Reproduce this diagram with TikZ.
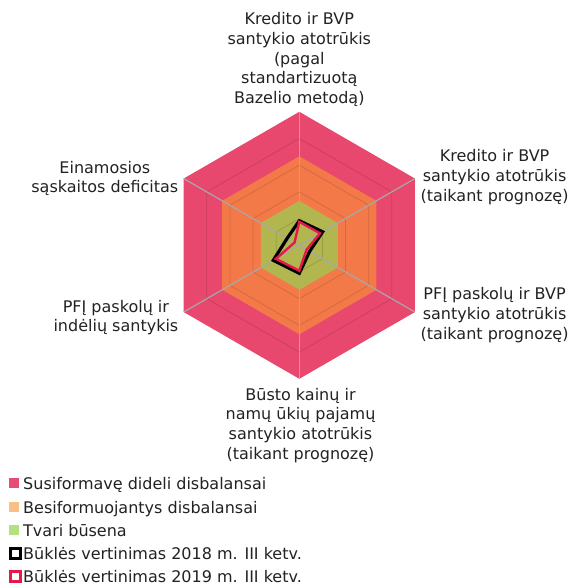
\documentclass[tikz,border=0pt]{standalone}
\usepackage{fontspec}
\setmainfont{DejaVu Sans}
\definecolor{outred}{RGB}{232,72,110}
\definecolor{midorange}{RGB}{243,122,72}
\definecolor{inolive}{RGB}{177,182,78}
\definecolor{legred}{RGB}{233,76,114}
\definecolor{legorange}{RGB}{252,190,135}
\definecolor{leggreen}{RGB}{180,224,130}
\definecolor{datapink}{RGB}{230,25,75}
\definecolor{spoke}{RGB}{168,168,168}
\definecolor{txt}{RGB}{34,34,34}
\begin{document}
\begin{tikzpicture}[x=1pt,y=-1pt,
  lab/.style={font=\fontsize{16}{19.6}\selectfont, text=txt, align=center, inner sep=0pt},
  legtext/.style={font=\fontsize{16}{19.6}\selectfont, text=txt, inner sep=0pt, anchor=base west},
  gridhex/.style={draw=black, draw opacity=0.13, line width=0.8pt},
  spokeline/.style={draw=spoke, line width=1.2pt},
  legsq/.style={minimum size=10pt, inner sep=0pt, draw=none},
  legbox/.style={minimum size=10pt, inner sep=0pt, fill=white, line width=3pt}]
\useasboundingbox (0,0) rectangle (571,585);
\begin{scope}[shift={(299.3,245.3)}, yscale=-1]
  \coordinate (o) at (0,0);
  \foreach \i/\a in {1/90,2/30,3/-30,4/-90,5/-150,6/150} {
    \coordinate (a\i) at (\a:133.5);
  }
  \fill[outred] (90:133.5) \foreach \a in {30,-30,-90,-150,150} { -- (\a:133.5) } -- cycle;
  \fill[midorange] (90:89) \foreach \a in {30,-30,-90,-150,150} { -- (\a:89) } -- cycle;
  \fill[inolive] (90:44.5) \foreach \a in {30,-30,-90,-150,150} { -- (\a:44.5) } -- cycle;
  \foreach \r in {26.7,53.4,80.1,106.8} {
    \draw[gridhex] (90:\r) \foreach \a in {30,-30,-90,-150,150} { -- (\a:\r) } -- cycle;
  }
  \foreach \i in {1,...,6} { \draw[spokeline] (o) -- (a\i); }
  % 2018
  \draw[black, line width=3.2pt, line join=miter]
    (90:24.5) -- (30:27) -- (-30:12) -- (-90:28) -- (-150:30) -- (150:14) -- cycle;
  % 2019
  \draw[datapink, line width=2.4pt, line join=miter]
    (90:23.5) -- (30:24) -- (-30:8.5) -- (-90:25.5) -- (-150:27) -- (150:5.5) -- cycle;
\end{scope}
% axis labels
\node[lab, anchor=north] (l1) at (299.3,12.5) {Kredito ir BVP\\santykio atotrūkis\\(pagal\\standartizuotą\\Bazelio metodą)};
\node[lab, anchor=north west] (l2) at (420.5,149.5) {Kredito ir BVP\\santykio atotrūkis\\(taikant prognozę)};
\node[lab, anchor=north west] (l3) at (420.5,287.5) {PFĮ paskolų ir BVP\\santykio atotrūkis\\(taikant prognozę)};
\node[lab, anchor=north] (l4) at (300.5,388) {Būsto kainų ir\\namų ūkių pajamų\\santykio atotrūkis\\(taikant prognozę)};
\node[lab, anchor=north east] (l5) at (178.5,300) {PFĮ paskolų ir\\indėlių santykis};
\node[lab, anchor=north east] (l6) at (178.5,161) {Einamosios\\sąskaitos deficitas};
% legend
\node[legsq, fill=legred] (s1) at (14.3,483) {};
\node[legsq, fill=legorange] (s2) at (14.3,506.5) {};
\node[legsq, fill=leggreen] (s3) at (14.3,530) {};
\node[legbox, draw=black] (s4) at (15.5,553) {};
\node[legbox, draw=datapink] (s5) at (15.5,576) {};
\node[legtext] (t1) at (23,489.5) {Susiformavę dideli disbalansai};
\node[legtext] (t2) at (23,513) {Besiformuojantys disbalansai};
\node[legtext] (t3) at (23,536.5) {Tvari būsena};
\node[legtext] (t4) at (23,559) {Būklės vertinimas 2018 m. III ketv.};
\node[legtext] (t5) at (23,582) {Būklės vertinimas 2019 m. III ketv.};
\end{tikzpicture}
\end{document}
